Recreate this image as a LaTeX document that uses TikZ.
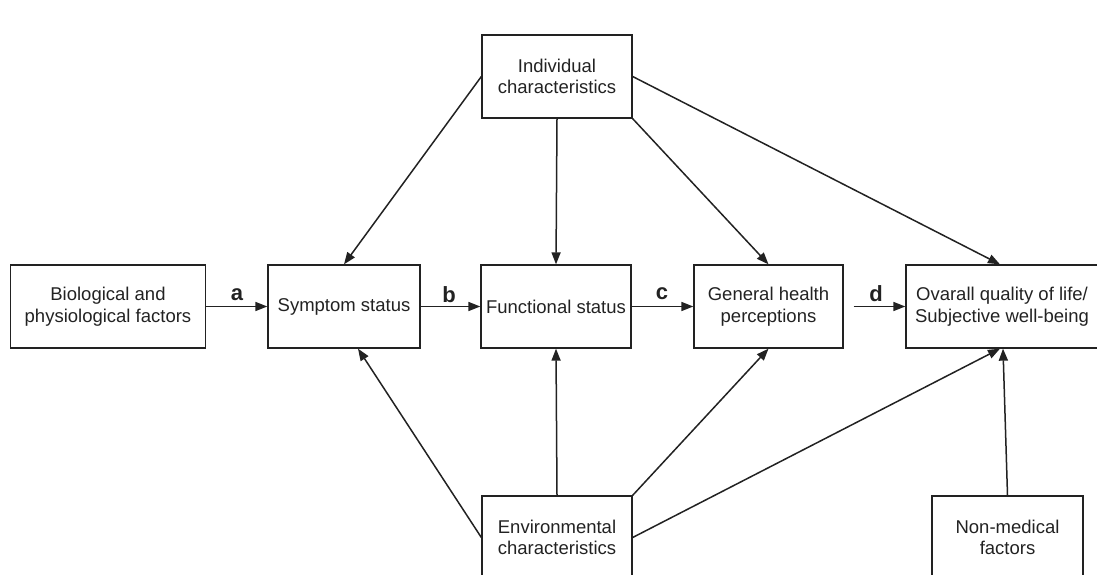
\documentclass[tikz,border=0pt]{standalone}
\usepackage{fontspec}
\setmainfont{Liberation Sans}
\usetikzlibrary{arrows.meta}
\definecolor{ink}{HTML}{222222}
\tikzset{
  box/.style={draw=ink, line width=1.3pt, inner sep=0pt, minimum height=83pt, align=center,
              text=ink, font=\fontsize{18.5}{21.5}\selectfont},
  conn/.style={draw=ink, line width=1.5pt, -{Triangle[length=12pt,width=9pt]}},
  lab/.style={font=\fontsize{22}{24}\selectfont\bfseries, text=ink, inner sep=0pt}
}
\begin{document}
\begin{tikzpicture}[x=1pt,y=-1pt]
\path[use as bounding box] (0,0) rectangle (1097,575);
\clip (0,0) rectangle (1097,575);
\node[box, minimum width=195pt] (bio) at (108,306.5) {Biological and\\physiological factors};
\node[box, minimum width=152pt] (sym) at (344,306.5) {Symptom status};
\node[box, minimum width=150pt] (fun) at (556,306.5) {Functional status};
\node[box, minimum width=149pt] (gen) at (768.5,306.5) {General health\\perceptions};
\node[box, minimum width=192pt] (ova) at (1002,306.5) {Ovarall quality of life/\\Subjective well-being};
\node[box, minimum width=150pt] (ind) at (557,76.5) {Individual\\characteristics};
\node[box, minimum width=150pt] (env) at (557,537.5) {Environmental\\characteristics};
\node[box, minimum width=151pt] (non) at (1007.5,537.5) {Non-medical\\factors};
\node[lab] (la) at (237,295) {a};
\node[lab] (lb) at (449,295) {b};
\node[lab] (lc) at (662,294) {c};
\node[lab] (ld) at (876,294) {d};
\draw[conn] (bio.east) -- (sym.west);
\draw[conn] (sym.east) -- (fun.west);
\draw[conn] (fun.east) -- (gen.west);
\draw[conn] ([xshift=10pt]gen.east) -- (ova.west);
\draw[conn] (ind.west) -- (sym.north);
\draw[conn] (ind.south) -- (fun.north);
\draw[conn] (ind.south east) -- (gen.north);
\draw[conn] (ind.east) -- ([xshift=-2pt]ova.north);
\draw[conn] (env.west) -- ([xshift=14pt]sym.south);
\draw[conn] (env.north) -- (fun.south);
\draw[conn] (env.north east) -- (gen.south);
\draw[conn] (env.east) -- ([xshift=-2pt]ova.south);
\draw[conn] (non.north) -- ([xshift=1pt]ova.south);
\end{tikzpicture}
\end{document}
